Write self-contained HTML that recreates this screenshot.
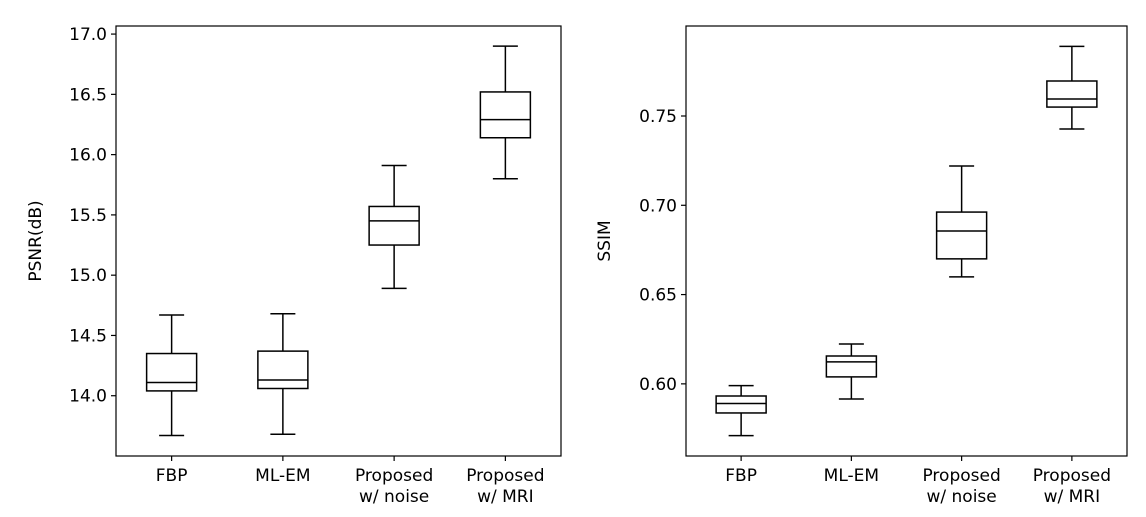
<!DOCTYPE html>
<html><head><meta charset="utf-8">
<style>
body{margin:0;background:#fff;}
svg{display:block;font-family:"DejaVu Sans","Liberation Sans",sans-serif;}
</style></head>
<body>
<svg id="fig" width="1146" height="517" viewBox="0 0 1146 517"></svg>
<script>
const categories = ["FBP", "ML-EM", "Proposed\nw/ noise", "Proposed\nw/ MRI"];
// PSNR: [low whisker, q1, median, q3, high whisker]
const psnrLow = [13.67, 13.68, 14.89, 15.80];
const psnrQ1 = [14.04, 14.06, 15.25, 16.14];
const psnrMed = [14.11, 14.13, 15.45, 16.29];
const psnrQ3 = [14.35, 14.37, 15.57, 16.52];
const psnrHigh = [14.67, 14.68, 15.91, 16.90];
const psnrTicks = [14.0, 14.5, 15.0, 15.5, 16.0, 16.5, 17.0];
const psnrTickLabels = ["14.0", "14.5", "15.0", "15.5", "16.0", "16.5", "17.0"];
// SSIM
const ssimLow = [0.571, 0.5915, 0.6599, 0.7427];
const ssimQ1 = [0.5837, 0.6039, 0.670, 0.755];
const ssimMed = [0.589, 0.6123, 0.6856, 0.7595];
const ssimQ3 = [0.5932, 0.6156, 0.6962, 0.7696];
const ssimHigh = [0.599, 0.6223, 0.722, 0.789];
const ssimTicks = [0.60, 0.65, 0.70, 0.75];
const ssimTickLabels = ["0.60", "0.65", "0.70", "0.75"];

const NS = "http://www.w3.org/2000/svg";
const svg = document.getElementById("fig");
function mk(tag, attrs, parent) {
  const e = document.createElementNS(NS, tag);
  for (const k in attrs) e.setAttribute(k, attrs[k]);
  (parent || svg).appendChild(e);
  return e;
}

function panel(cfg) {
  const g = mk("g", {});
  
  
  const {x0, x1, y0, y1, ymin, ymax} = cfg;
  const yS = v => y1 - (v - ymin) / (ymax - ymin) * (y1 - y0);
  const xS = i => x0 + (i + 0.5) * (x1 - x0) / categories.length;
  const bw = 50, cw = 25, fs = 17;
  cfg.ticks.forEach((t, i) => {
    const y = yS(t);
    const tk = mk("line", {x1: x0 - 5, x2: x0, y1: y, y2: y, stroke: "#000", "stroke-width": 1.2}, g);
    
    
    const tl = mk("text", {x: x0 - 9, y: y + 6, "text-anchor": "end", "font-size": fs, fill: "#000"}, g);
    tl.textContent = cfg.tickLabels[i];
    
    
  });
  categories.forEach((c, i) => {
    const x = xS(i);
    const tk = mk("line", {x1: x, x2: x, y1: y1, y2: y1 + 5, stroke: "#000", "stroke-width": 1.2}, g);
    
    
    c.split("\n").forEach((ln, j) => {
      const tl = mk("text", {x: x, y: y1 + 25 + j * 21, "text-anchor": "middle", "font-size": fs, fill: "#000"}, g);
      tl.textContent = ln;
      
      
    });
  });
  categories.forEach((c, i) => {
    const x = xS(i);
    const bg = mk("g", {stroke: "#000", "stroke-width": 1.5, fill: "none"}, g);
    
    
    const lo = yS(cfg.low[i]), q1 = yS(cfg.q1[i]), md = yS(cfg.med[i]), q3 = yS(cfg.q3[i]), hi = yS(cfg.high[i]);
    mk("line", {x1: x, x2: x, y1: hi, y2: q3}, bg);
    mk("line", {x1: x, x2: x, y1: q1, y2: lo}, bg);
    mk("line", {x1: x - cw / 2, x2: x + cw / 2, y1: hi, y2: hi}, bg);
    mk("line", {x1: x - cw / 2, x2: x + cw / 2, y1: lo, y2: lo}, bg);
    mk("rect", {x: x - bw / 2, y: q3, width: bw, height: q1 - q3}, bg);
    mk("line", {x1: x - bw / 2, x2: x + bw / 2, y1: md, y2: md}, bg);
  });
  const fr = mk("rect", {x: x0, y: y0, width: x1 - x0, height: y1 - y0, fill: "none", stroke: "#000", "stroke-width": 1.2}, g);
  
  
  const yl = mk("text", {x: 0, y: 0, "text-anchor": "middle", "font-size": fs, fill: "#000",
    transform: `translate(${cfg.ylx},${(y0 + y1) / 2}) rotate(-90)`}, g);
  yl.textContent = cfg.ylabel;
  
  
}

panel({name: "psnr-chart", x0: 116, x1: 561, y0: 26, y1: 456, ymin: 13.50, ymax: 17.067,
  ticks: psnrTicks, tickLabels: psnrTickLabels, low: psnrLow, q1: psnrQ1, med: psnrMed, q3: psnrQ3, high: psnrHigh,
  ylabel: "PSNR(dB)", ylx: 41});
panel({name: "ssim-chart", x0: 686, x1: 1127, y0: 26, y1: 456, ymin: 0.5596, ymax: 0.8004,
  ticks: ssimTicks, tickLabels: ssimTickLabels, low: ssimLow, q1: ssimQ1, med: ssimMed, q3: ssimQ3, high: ssimHigh,
  ylabel: "SSIM", ylx: 610});
</script>
</body></html>
